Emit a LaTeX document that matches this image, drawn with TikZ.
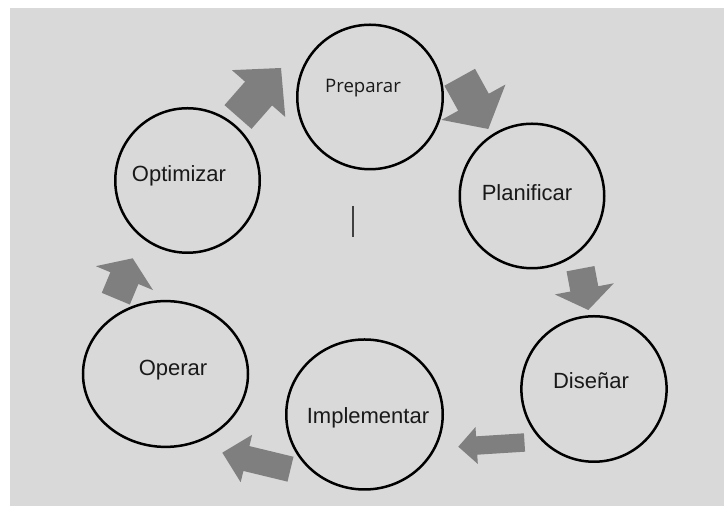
\documentclass[tikz,border=0pt]{standalone}
\usepackage{fontspec}
\setmainfont{Liberation Sans}
\newfontfamily\prepfont{Open Sans}
\usetikzlibrary{calc,shapes.geometric}

\definecolor{bggray}{HTML}{D9D9D9}
\definecolor{arrowgray}{HTML}{7F7F7F}

% block arrow: tail, tip, shaft half width, head half width, head length
\newcommand{\blockarrow}[5]{%
  \coordinate (#1-b) at ($(#2)!#5!(#1)$);
  \fill[arrowgray] ($(#1)!#3!90:(#2)$) -- ($(#1-b)!#3!90:(#2)$) -- ($(#1-b)!#4!90:(#2)$) -- (#2)
    -- ($(#1-b)!#4!-90:(#2)$) -- ($(#1-b)!#3!-90:(#2)$) -- ($(#1)!#3!-90:(#2)$) -- cycle;
}

\begin{document}
\begin{tikzpicture}[x=0.5pt, y=-0.5pt]
    \tikzstyle{stage} = [ellipse, draw=black, line width=1.25pt, inner sep=0pt]
    \tikzstyle{stagetext} = [inner sep=1pt, text=black!90, font=\fontsize{11}{13}\selectfont]

    \useasboundingbox (0,0) rectangle (724,506);
    \fill[bggray] (10,8) rectangle (724,506);

    % Stages
    \node [stage, minimum width=72.75pt, minimum height=72.25pt] (prep) at (370,97) {};
    \node [stage, minimum width=72.25pt, minimum height=72.25pt] (plan) at (532,196) {};
    \node [stage, minimum width=72.6pt, minimum height=72.75pt] (dis) at (594,389) {};
    \node [stage, minimum width=78.25pt, minimum height=75pt] (impl) at (364.5,414.5) {};
    \node [stage, minimum width=82.5pt, minimum height=72.9pt] (oper) at (165.5,374) {};
    \node [stage, minimum width=72.25pt, minimum height=72.25pt] (opt) at (187.5,180.5) {};

    % Labels
    \node [stagetext, font=\prepfont\fontsize{9.3}{11}\selectfont] (prep-t) at (363,88) {Preparar};
    \node [stagetext] (plan-t) at (527,193) {Planificar};
    \node [stagetext] (dis-t) at (591,381) {Diseñar};
    \node [stagetext] (impl-t) at (368,418) {Implementar};
    \node [stagetext] (oper-t) at (173,370) {Operar};
    \node [stagetext] (opt-t) at (179,176) {Optimizar};

    % Arrows
    \coordinate (a1t) at (238,117);     \coordinate (a1p) at (281,68);
    \coordinate (a2t) at (459.7,77.3);  \coordinate (a2p) at (488.3,129);
    \coordinate (a3t) at (580.5,268.7); \coordinate (a3p) at (588.3,310);
    \coordinate (a4t) at (524.5,442.5); \coordinate (a4p) at (458.3,446.7);
    \coordinate (a5t) at (290.5,469.2); \coordinate (a5p) at (222.3,452.7);
    \coordinate (a6t) at (115.8,298.7); \coordinate (a6p) at (132.7,258.3);

    \blockarrow{a1t}{a1p}{9pt}{17.75pt}{17pt}
    \blockarrow{a2t}{a2p}{8.75pt}{18.25pt}{15.3pt}
    \blockarrow{a3t}{a3p}{7.1pt}{15pt}{10.75pt}
    \blockarrow{a4t}{a4p}{4.6pt}{9.25pt}{9.2pt}
    \blockarrow{a5t}{a5p}{6.4pt}{12.2pt}{12.4pt}
    \blockarrow{a6t}{a6p}{7.6pt}{15.5pt}{10.75pt}

    % Cursor mark
    \draw [black!75, line width=0.8pt] (353,206) -- (353,237);
\end{tikzpicture}
\end{document}
